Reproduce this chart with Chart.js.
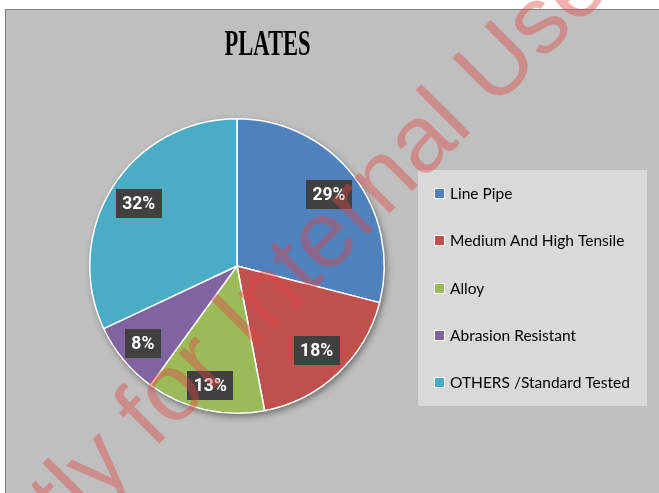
<!DOCTYPE html>
<html><head><meta charset="utf-8">
<script src="https://cdn.jsdelivr.net/npm/chart.js@4/dist/chart.umd.min.js"></script>
<style>
html,body{margin:0;padding:0;background:#fff;width:659px;height:493px;overflow:hidden}
#panel{position:absolute;left:5px;top:9px;width:660px;height:490px;background:#bfbfbf;border:1px solid #7f7f7f;box-sizing:border-box}
#c{position:absolute;left:0;top:0}
</style></head><body>
<div id="panel"></div>
<canvas id="c" width="659" height="493"></canvas>
<script>
const chartTitle = 'PLATES';
const categories = ['Line Pipe', 'Medium And High Tensile', 'Alloy', 'Abrasion Resistant', 'OTHERS /Standard Tested'];
const shares = [29, 18, 13, 8, 32];
const sliceColors = ['#4f81bd', '#c0504d', '#9bbb59', '#8064a2', '#4bacc6'];
const watermarkText = 'Strictly for Internal Use';

const pieShadow = {
  id: 'pieShadow',
  beforeDatasetsDraw(chart) {
    const a = chart.getDatasetMeta(0).data[0];
    if (!a) return;
    const ctx = chart.ctx;
    ctx.save();
    ctx.shadowColor = 'rgba(0,0,0,0.45)';
    ctx.shadowBlur = 7;
    ctx.shadowOffsetX = 2;
    ctx.shadowOffsetY = 3;
    ctx.fillStyle = '#bfbfbf';
    ctx.beginPath();
    ctx.arc(a.x, a.y, a.outerRadius, 0, Math.PI * 2);
    ctx.fill();
    ctx.restore();
  }
};

const sliceLabels = {
  id: 'sliceLabels',
  afterDatasetsDraw(chart) {
    const ctx = chart.ctx;
    const meta = chart.getDatasetMeta(0);
    const vals = chart.data.datasets[0].data;
    ctx.save();
    ctx.font = 'bold 17.5px Roboto';
    ctx.textAlign = 'center';
    ctx.textBaseline = 'middle';
    meta.data.forEach((arc, i) => {
      const mid = (arc.startAngle + arc.endAngle) / 2;
      const frac = arc.endAngle - arc.startAngle < 1 ? 0.83 : 0.79;
      const r = arc.outerRadius * frac;
      const x = arc.x + Math.cos(mid) * r;
      const y = arc.y + Math.sin(mid) * r;
      const txt = vals[i] + '%';
      const w = ctx.measureText(txt).width + 13;
      const h = 29;
      ctx.fillStyle = '#404040';
      ctx.fillRect(Math.round(x - w / 2), Math.round(y - h / 2), Math.round(w), h);
      ctx.fillStyle = '#ffffff';
      ctx.fillText(txt, x, y + 1);
    });
    ctx.restore();
  }
};

const sideLegend = {
  id: 'sideLegend',
  afterDraw(chart) {
    const ctx = chart.ctx;
    const labels = chart.data.labels;
    const colors = chart.data.datasets[0].backgroundColor;
    ctx.save();
    ctx.fillStyle = '#d9d9d9';
    ctx.fillRect(418, 170, 229, 236);
    ctx.font = '15.5px Lato';
    ctx.textAlign = 'left';
    ctx.textBaseline = 'middle';
    labels.forEach((lab, i) => {
      const y = Math.round(193 + i * 47.25);
      ctx.fillStyle = '#ffffff';
      ctx.fillRect(434, y - 5, 11, 11);
      ctx.fillStyle = colors[i];
      ctx.fillRect(435, y - 4, 9, 9);
      ctx.fillStyle = '#000000';
      ctx.fillText(lab, 450, y + 1);
    });
    ctx.restore();
  }
};

const bigTitle = {
  id: 'bigTitle',
  afterDraw(chart) {
    const ctx = chart.ctx;
    ctx.save();
    ctx.font = 'bold 36px "Liberation Serif"';
    const w = ctx.measureText(chartTitle).width;
    ctx.translate(267.5, 55);
    ctx.scale(86 / w, 1);
    ctx.textAlign = 'center';
    ctx.textBaseline = 'alphabetic';
    ctx.fillStyle = '#000000';
    ctx.fillText(chartTitle, 0, 0);
    ctx.restore();
  }
};

const watermark = {
  id: 'watermark',
  afterDraw(chart) {
    const ctx = chart.ctx;
    ctx.save();
    ctx.font = '95px "Liberation Sans"';
    const idx = watermarkText.indexOf('Internal');
    const pre = ctx.measureText(watermarkText.slice(0, idx)).width;
    const iw = ctx.measureText('I').width;
    ctx.translate(260, 343);
    ctx.rotate(-Math.PI / 4);
    ctx.fillStyle = 'rgba(225,70,70,0.42)';
    ctx.textAlign = 'left';
    ctx.textBaseline = 'alphabetic';
    ctx.fillText(watermarkText, -(pre + iw / 2), 0);
    ctx.restore();
  }
};

new Chart(document.getElementById('c'), {
  type: 'pie',
  data: {
    labels: categories,
    datasets: [{
      data: shares,
      backgroundColor: sliceColors,
      borderColor: '#ffffff',
      borderWidth: 1.5
    }]
  },
  options: {
    responsive: false,
    animation: false,
    layout: { padding: { left: 89, right: 274, top: 118, bottom: 79 } },
    plugins: {
      legend: { display: false },
      title: { display: false },
      tooltip: { enabled: false }
    }
  },
  plugins: [pieShadow, sliceLabels, sideLegend, bigTitle, watermark]
});
</script>
</body></html>
